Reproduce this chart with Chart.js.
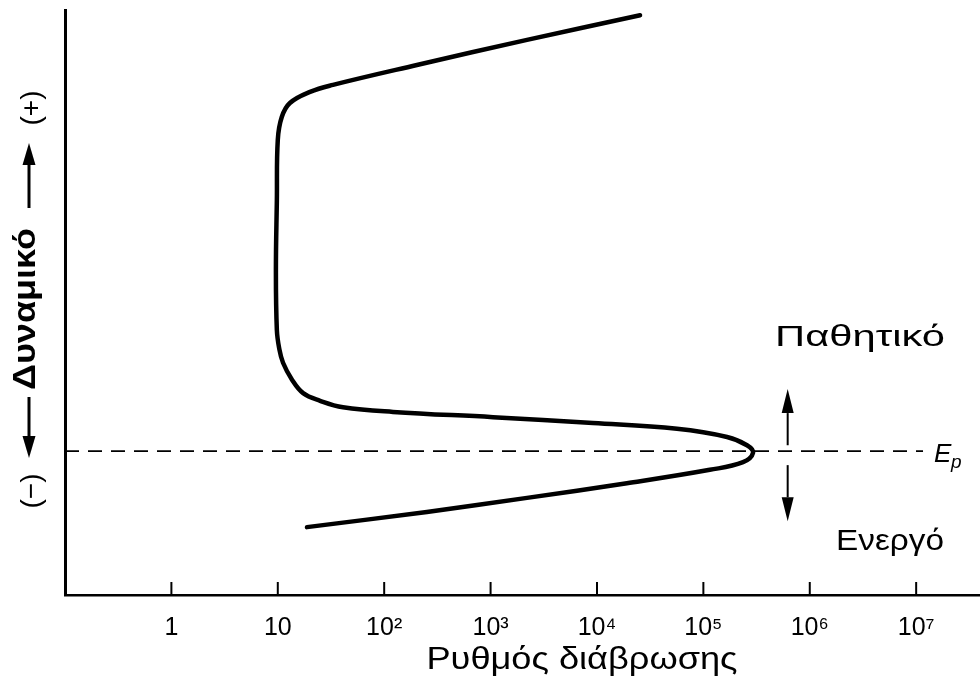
<!DOCTYPE html>
<html lang="el">
<head>
<meta charset="utf-8">
<title>Δυναμικό – Ρυθμός διάβρωσης</title>
<script src="https://cdn.jsdelivr.net/npm/chart.js@4.4.1/dist/chart.umd.min.js"></script>
<style>
  html, body { margin: 0; padding: 0; background: #fff; }
  #marco { width: 980px; height: 682px; position: relative; }
</style>
</head>
<body>
<div id="marco"><canvas id="grafico"></canvas></div>
<script>
/* ── DATOS ─────────────────────────────────────────────────── */
// eje x: ρυθμός διάβρωσης (log), eje y: δυναμικό (unidades relativas 0–100)
const tickRates  = [1, 10, 1e2, 1e3, 1e4, 1e5, 1e6, 1e7];
const tickLabels = ['1', '10', '10²', '10³', '10⁴', '10⁵', '10⁶', '10⁷'];

// curva, leída de arriba (transpasivo) hacia abajo (activo)
const curveRate = [
  25400, 2200, 203, 33, 20.1, 13.0, 10.9, 10.0, 9.8, 9.6, 9.8, 10.3, 11.2, 13.6,
  17.3, 25, 41, 121, 1055, 9160, 56500, 167000, 257000, 293000, 236000,
  115000, 19100, 2200, 252, 18.8
];
const curvePotential = [
  99.1, 94.9, 90.6, 87.2, 86.0, 84.1, 81.7, 77.8, 67.5, 55.6, 45.3, 42.2, 39.7, 36.8,
  34.5, 33.2, 32.1, 31.3, 30.4, 29.4, 28.4, 27.0, 25.6, 24.3, 22.7,
  21.4, 19.1, 16.6, 14.2, 11.6
];

// línea punteada del potencial de pasivación E_p
const epPotential = 24.6;
const epLineRate  = [0.1, 1.16e7];

// flechas Παθητικό / Ενεργό
const arrowRate     = 6.2e5;
const arrowUpPot    = [25.6, 35.2];   // desde, punta
const arrowDownPot  = [22.2, 12.6];

const FUENTE = '"Liberation Sans", Arial, Helvetica, sans-serif';

/* ── UTILIDADES DE DIBUJO ──────────────────────────────────── */
function flecha(ctx, x1, y1, x2, y2, largo, ancho, grosor) {
  const ang = Math.atan2(y2 - y1, x2 - x1);
  const bx = x2 - largo * Math.cos(ang);
  const by = y2 - largo * Math.sin(ang);
  ctx.lineWidth = grosor;
  ctx.beginPath();
  ctx.moveTo(x1, y1);
  ctx.lineTo(bx, by);
  ctx.stroke();
  ctx.beginPath();
  ctx.moveTo(x2, y2);
  ctx.lineTo(bx + ancho / 2 * Math.sin(ang), by - ancho / 2 * Math.cos(ang));
  ctx.lineTo(bx - ancho / 2 * Math.sin(ang), by + ancho / 2 * Math.cos(ang));
  ctx.closePath();
  ctx.fill();
}

// texto ajustado a un ancho dado (la fuente del original es más ancha)
function textoAncho(ctx, txt, x, y, ancho) {
  const w = ctx.measureText(txt).width;
  ctx.save();
  ctx.translate(x, y);
  ctx.scale(ancho / w, 1);
  ctx.fillText(txt, 0, 0);
  ctx.restore();
}

/* ── ANOTACIONES ───────────────────────────────────────────── */
const anotaciones = {
  id: 'anotaciones',
  afterDraw(chart) {
    const { ctx, scales: { x, y }, chartArea } = chart;
    ctx.save();
    ctx.strokeStyle = '#000';
    ctx.fillStyle = '#000';

    // marcas de las divisiones hacia dentro
    ctx.lineWidth = 2;
    tickRates.forEach(v => {
      const px = x.getPixelForValue(v);
      ctx.beginPath();
      ctx.moveTo(px, chartArea.bottom);
      ctx.lineTo(px, chartArea.bottom - 13);
      ctx.stroke();
    });

    // flechas arriba / abajo
    const ax = x.getPixelForValue(arrowRate);
    flecha(ctx, ax, y.getPixelForValue(arrowUpPot[0]), ax, y.getPixelForValue(arrowUpPot[1]), 24, 12, 2);
    flecha(ctx, ax, y.getPixelForValue(arrowDownPot[0]), ax, y.getPixelForValue(arrowDownPot[1]), 24, 12, 2);

    // etiquetas de la derecha
    ctx.textBaseline = 'middle';
    ctx.textAlign = 'left';
    ctx.font = '30px ' + FUENTE;
    textoAncho(ctx, 'Παθητικό', 775, 338, 170);
    textoAncho(ctx, 'Ενεργό', 836, 542, 108);

    // E_p
    ctx.font = 'italic 26px ' + FUENTE;
    ctx.fillText('E', 934, 455);
    ctx.font = 'italic 19px ' + FUENTE;
    ctx.fillText('p', 951, 463);

    // título del eje x
    ctx.textAlign = 'center';
    ctx.font = '31px ' + FUENTE;
    textoAncho(ctx, 'Ρυθμός διάβρωσης', 582, 660, 311);

    // título del eje y, girado
    ctx.save();
    ctx.rotate(-Math.PI / 2);
    // en el marco girado: u = -yPagina, v = xPagina
    ctx.textAlign = 'center';
    ctx.textBaseline = 'alphabetic';
    ctx.font = 'bold 32px ' + FUENTE;
    textoAncho(ctx, 'Δυναμικό', -309, 35, 162);
    ctx.font = '28px ' + FUENTE;
    ctx.textBaseline = 'middle';
    ctx.fillText('(−)', -491, 32);
    ctx.fillText('(+)', -108, 32);
    flecha(ctx, -397, 29, -458, 29, 22, 13, 3);
    flecha(ctx, -208, 29, -143, 29, 22, 13, 3);
    ctx.restore();

    ctx.restore();
  }
};

/* ── GRÁFICO ───────────────────────────────────────────────── */
const ctx = document.getElementById('grafico').getContext('2d');

new Chart(ctx, {
  type: 'scatter',
  data: {
    datasets: [
      {
        label: 'Καμπύλη',
        data: curveRate.map((r, i) => ({ x: r, y: curvePotential[i] })),
        showLine: true,
        borderColor: '#000',
        borderWidth: 4.5,
        borderCapStyle: 'round',
        borderJoinStyle: 'round',
        pointRadius: 0,
        tension: 0.4,
        fill: false,
      },
      {
        label: 'Ep',
        data: epLineRate.map(r => ({ x: r, y: epPotential })),
        showLine: true,
        borderColor: '#000',
        borderWidth: 1.6,
        borderDash: [14, 9],
        pointRadius: 0,
        fill: false,
      }
    ]
  },
  options: {
    responsive: true,
    maintainAspectRatio: false,
    animation: false,
    layout: { padding: { top: 10, right: 0, bottom: 0, left: 0 } },
    plugins: {
      legend: { display: false },
      tooltip: { enabled: false },
    },
    scales: {
      x: {
        type: 'logarithmic',
        min: 0.1,
        max: Math.pow(10, 7.6),
        afterBuildTicks: (s) => { s.ticks = tickRates.map(v => ({ value: v })); },
        afterFit: (s) => { s.height = 87; },
        grid: { display: false, drawTicks: false },
        border: { display: true, color: '#000', width: 2.5 },
        ticks: {
          autoSkip: false,
          maxRotation: 0,
          padding: 18,
          color: '#000',
          font: { family: FUENTE, size: 25 },
          callback: (v, i) => tickLabels[i],
        },
        title: { display: false }
      },
      y: {
        min: 0,
        max: 100,
        afterFit: (s) => { s.width = 65; },
        grid: { display: false, drawTicks: false },
        border: { display: true, color: '#000', width: 3 },
        ticks: { display: false },
      }
    }
  },
  plugins: [anotaciones]
});
</script>
</body>
</html>
